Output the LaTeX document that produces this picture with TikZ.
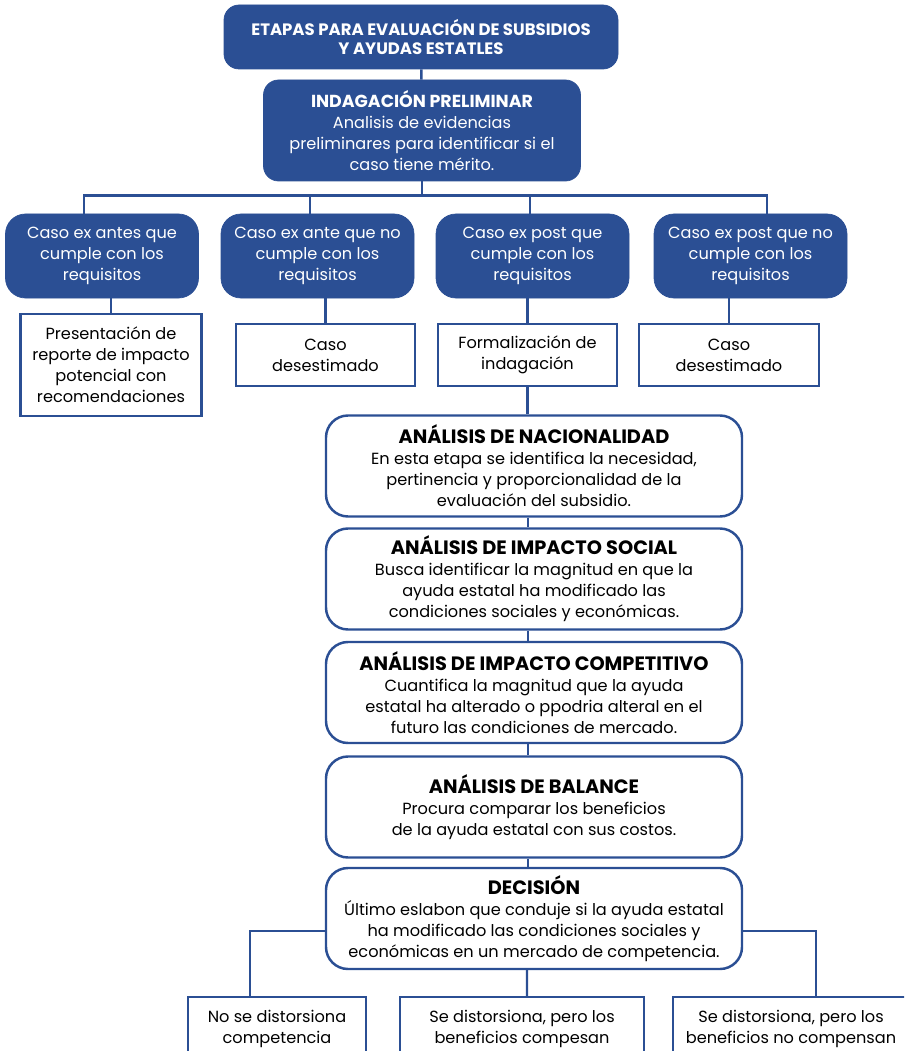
\documentclass[tikz,border=0pt]{standalone}
\usepackage{fontspec}
\setmainfont{Poppins}
\usetikzlibrary{positioning}
\definecolor{azul}{RGB}{43,79,148}
\newcommand\hdf{\bfseries\fontsize{11}{12.4}\selectfont}
\tikzset{
  tit/.style={rounded corners=3mm,fill=azul,draw=azul,text=white,align=center,inner sep=0pt,
    font=\bfseries\fontsize{9.4}{11.3}\selectfont},
  cs/.style={rounded corners=4mm,fill=azul,draw=azul,text=white,align=center,inner sep=0pt,
    minimum width=38.6mm,minimum height=16.8mm,font=\fontsize{9.2}{11.9}\selectfont},
  rb/.style={draw=azul,line width=1.4pt,fill=white,align=center,inner sep=0pt,
    font=\fontsize{9.2}{11.9}\selectfont},
  st/.style={rounded corners=4.4mm,draw=azul,line width=1.4pt,fill=white,align=center,inner sep=0pt,
    minimum width=83.2mm,minimum height=20.2mm,font=\fontsize{9.2}{11.9}\selectfont},
  lnk/.style={draw=azul,line width=1.4pt},
}
\begin{document}
\begin{tikzpicture}[x=0.2mm,y=-0.2mm]
\useasboundingbox (0,0) rectangle (904,1051);
\clip (0,0) rectangle (904,1051);
% title and first step
\node[tit,minimum width=78.8mm,minimum height=12.8mm] (T) at (421,37)
  {ETAPAS PARA EVALUACIÓN DE SUBSIDIOS\\Y AYUDAS ESTATLES};
\node[tit,minimum width=63.4mm,minimum height=20.2mm,font=\fontsize{9.2}{11.9}\selectfont] (I) at (422,130.5)
  {{\bfseries\fontsize{9.9}{11.9}\selectfont INDAGACIÓN PRELIMINAR}\\Analisis de evidencias\\preliminares para identificar si el\\caso tiene mérito.};
\draw[lnk] (T) -- (I);
% the four cases
\node[cs] (c1) at (102,256) {Caso ex antes que\\cumple con los\\requisitos};
\node[cs] (c2) at (317.5,256) {Caso ex ante que no\\cumple con los\\requisitos};
\node[cs] (c3) at (532.5,256) {Caso ex post que\\cumple con los\\requisitos};
\node[cs] (c4) at (750.5,256) {Caso ex post que no\\cumple con los\\requisitos};
\draw[lnk] (I.south) -- ++(0,14) coordinate (bus);
\draw[lnk] (bus) -| ([xshift=-3.6mm]c1.north);
\draw[lnk] (bus) -| ([xshift=-1.5mm]c2.north);
\draw[lnk] (bus) -| ([xshift=-0.5mm]c3.north);
\draw[lnk] (bus) -| ([xshift=3.3mm]c4.north);
% what follows each case
\node[rb,minimum width=36.2mm,minimum height=20.4mm] (w1) at (111,365)
  {Presentación de\\reporte de impacto\\potencial con\\recomendaciones};
\node[rb,minimum width=35.8mm,minimum height=12.4mm] (w2) at (325.5,355) {Caso\\desestimado};
\node[rb,minimum width=35.8mm,minimum height=12.4mm] (w3) at (527.5,355) {Formalización de\\indagación};
\node[rb,minimum width=36mm,minimum height=12.4mm] (w4) at (729,355) {Caso\\desestimado};
\foreach \w/\c in {w1/c1,w2/c2,w3/c3,w4/c4}
  \draw[lnk] (\w.north) -- (\w.north |- \c.south);
% the stages
\node[st] (n1) at (534,466) {{\hdf ANÁLISIS DE NACIONALIDAD}\\En esta etapa se identifica la necesidad,\\pertinencia y proporcionalidad de la\\evaluación del subsidio.};
\node[st] (n2) at (534,579) {{\hdf ANÁLISIS DE IMPACTO SOCIAL}\\Busca identificar la magnitud en que la\\ayuda estatal ha modificado las\\condiciones sociales y económicas.};
\node[st] (n3) at (534,692.5) {{\hdf ANÁLISIS DE IMPACTO COMPETITIVO}\\Cuantifica la magnitud que la ayuda\\estatal ha alterado o ppodria alteral en el\\futuro las condiciones de mercado.};
\node[st] (n4) at (534,807) {{\hdf ANÁLISIS DE BALANCE}\\Procura comparar los beneficios\\de la ayuda estatal con sus costos.};
\node[st] (n5) at (534,918.5) {{\hdf DECISIÓN}\\Último eslabon que conduje si la ayuda estatal\\ha modificado las condiciones sociales y\\económicas en un mercado de competencia.};
\draw[lnk] (w3.south) -- (w3.south |- n1.north);
\foreach \a/\b in {n1/n2,n2/n3,n3/n4,n4/n5}
  \draw[lnk] ([xshift=-1.2mm]\a.south) -- ([xshift=-1.2mm]\b.north);
% outcomes
\node[rb,minimum width=35.6mm,minimum height=12.6mm] (b1) at (277,1028.5) {No se distorsiona\\competencia};
\node[rb,minimum width=48.8mm,minimum height=12.6mm] (b2) at (522,1028.5) {Se distorsiona, pero los\\beneficios compesan};
\node[rb,minimum width=47.2mm,minimum height=12.6mm] (b3) at (791,1028.5) {Se distorsiona, pero los\\beneficios no compensan};
\draw[lnk] ([yshift=-2.5mm]n5.west) -| ([xshift=-5.4mm]b1.north);
\draw[lnk] ([xshift=-1.4mm]n5.south) -- ([xshift=1mm]b2.north);
\draw[lnk] ([yshift=-2.5mm]n5.east) -| ([xshift=5mm]b3.north);
\end{tikzpicture}
\end{document}
